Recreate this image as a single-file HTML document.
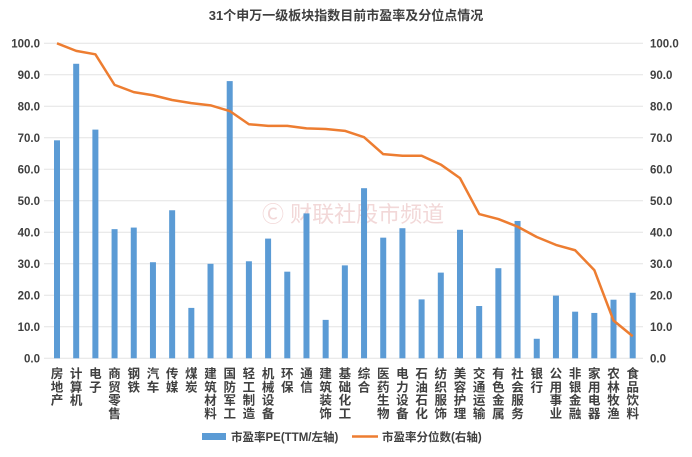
<!DOCTYPE html>
<html><head><meta charset="utf-8"><style>
body{margin:0;background:#fff;font-family:"Liberation Sans","Noto Sans CJK SC",sans-serif}
svg text{font-family:"Liberation Sans","Noto Sans CJK SC",sans-serif}
</style></head><body>
<svg id="c" width="692" height="452"></svg>
<script>
const categories=["房地产","计算机","电子","商贸零售","钢铁","汽车","传媒","煤炭","建筑材料","国防军工","轻工制造","机械设备","环保","通信","建筑装饰","基础化工","综合","医药生物","电力设备","石油石化","纺织服饰","美容护理","交通运输","有色金属","社会服务","银行","公用事业","非银金融","家用电器","农林牧渔","食品饮料"];
const peValues=[69.2,93.5,72.6,41,41.5,30.5,47,16,30,88,30.8,38,27.5,46,12.2,29.5,54,38.3,41.3,18.7,27.2,40.8,16.6,28.6,43.6,6.2,19.9,14.8,14.4,18.6,20.8];
const pctValues=[100,97.6,96.5,86.8,84.5,83.5,82,81,80.3,78.5,74.3,73.8,73.8,73,72.8,72.2,70.2,64.8,64.3,64.3,61.5,57.2,45.8,44.2,41.8,38.5,36,34.3,28,12,7];
const ticks=[0,10,20,30,40,50,60,70,80,90,100];
const NS="http://www.w3.org/2000/svg";
const svg=document.getElementById('c');
function mk(t,a,p){const e=document.createElementNS(NS,t);for(const k in a)e.setAttribute(k,a[k]);(p||svg).appendChild(e);return e;}
const y=v=>358.3-v*3.15;
const x=i=>57+i*19.19;
// title
let t=mk('text',{x:346,y:20,'text-anchor':'middle','font-size':13,'font-weight':'bold',fill:'#404040'});t.textContent='31个申万一级板块指数目前市盈率及分位点情况';

// watermark
let w=mk('text',{x:262,y:222,'font-size':22,fill:'#f2d8d8'});w.textContent='Ⓒ 财联社股市频道';

ticks.forEach(v=>{
 const g=mk('line',{x1:44,x2:643,y1:y(v),y2:y(v),stroke:'#e4e4e4','stroke-width':1});
 
 const l=mk('text',{x:40,y:y(v)+4,'text-anchor':'end','font-size':11.5,fill:'#404040','font-weight':'bold'});l.textContent=v.toFixed(1);
 
 const r=mk('text',{x:650,y:y(v)+4,'font-size':11.5,fill:'#404040','font-weight':'bold'});r.textContent=v.toFixed(1);
 
});
peValues.forEach((v,i)=>{
 const b=mk('rect',{x:x(i)-3,y:y(v),width:6,height:y(0)-y(v),fill:'#5b9bd5'});
 
});
const pts=pctValues.map((v,i)=>x(i)+','+y(v)).join(' ');
const pl=mk('polyline',{points:pts,fill:'none',stroke:'#ed7d31','stroke-width':2.5,'stroke-linejoin':'round'});

categories.forEach((c,i)=>{
 const tx=mk('text',{x:x(i),'font-size':12.5,fill:'#404040','font-weight':'bold','text-anchor':'middle'});
 
 [...c].forEach((ch,k)=>{const s=mk('tspan',{x:x(i),y:378+k*13.3},tx);s.textContent=ch;});
});
// legend
const lg=mk('g',{});
mk('rect',{x:202,y:433,width:24,height:7,fill:'#5b9bd5'},lg);
let a=mk('text',{x:231,y:441,'font-size':11.5,fill:'#404040','font-weight':'bold'},lg);a.textContent='市盈率PE(TTM/左轴)';
mk('line',{x1:352,x2:378,y1:436.5,y2:436.5,stroke:'#ed7d31','stroke-width':2.5},lg);
let b2=mk('text',{x:382,y:441,'font-size':11.5,fill:'#404040','font-weight':'bold'},lg);b2.textContent='市盈率分位数(右轴)';
</script>
</body></html>
